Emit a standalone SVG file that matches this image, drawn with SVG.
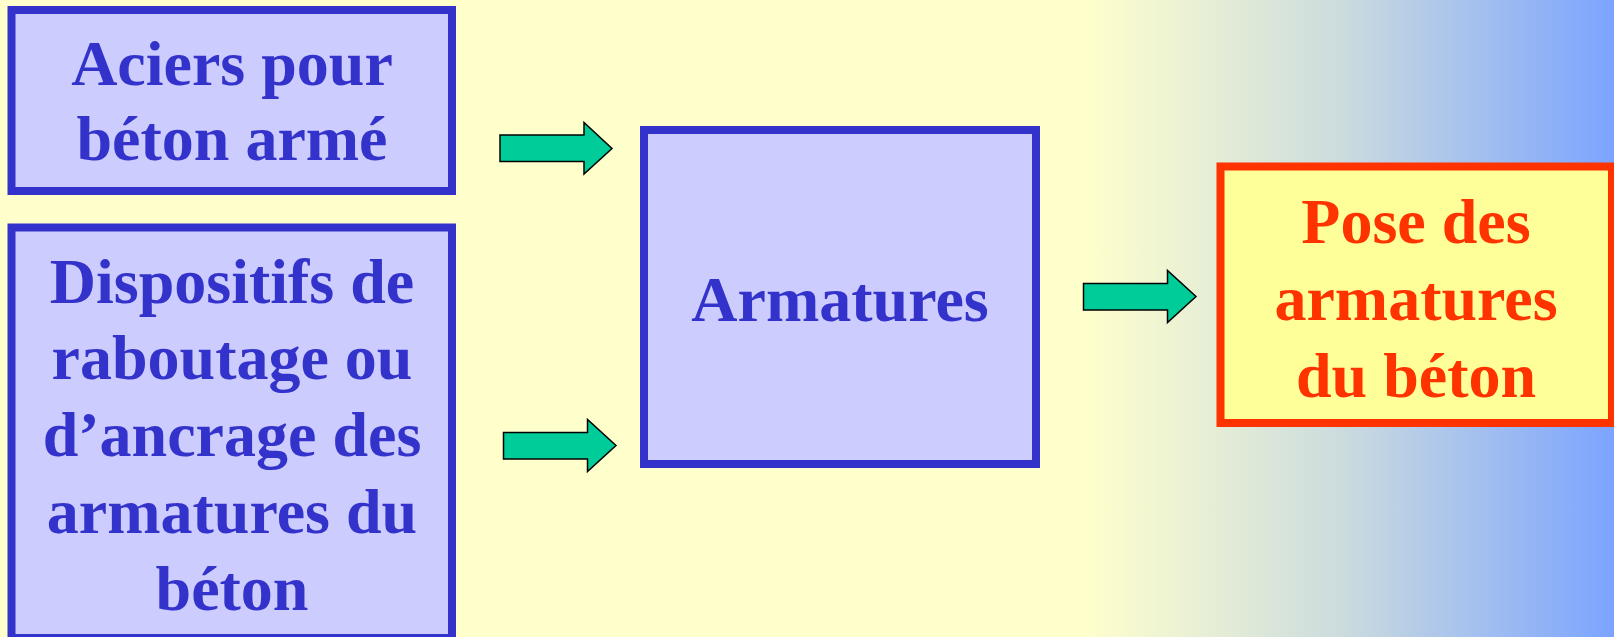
<svg xmlns="http://www.w3.org/2000/svg" width="1614" height="637" viewBox="0 0 1614 637">
<defs>
<linearGradient id="bg" x1="0" y1="0" x2="1614" y2="0" gradientUnits="userSpaceOnUse">
<stop offset="0" stop-color="#FFFFCC"/>
<stop offset="0.672" stop-color="#FFFFCC"/>
<stop offset="0.83" stop-color="#CCDCDE"/>
<stop offset="1" stop-color="#7BA4FF"/>
</linearGradient>
<style>
.bx{fill:#CCCCFF;stroke:#3333CC;stroke-width:8}
.rx{fill:#FFFF99;stroke:#FF3300;stroke-width:8}
.t{font-family:"Liberation Serif","Times New Roman",serif;font-weight:bold;text-anchor:middle;font-size:64px}
.tb{fill:#3333CC}
.tr{fill:#FF3300}
.ar{fill:#00CC99;stroke:#000;stroke-width:1.5;stroke-linejoin:miter}
</style>
</defs>
<rect x="0" y="0" width="1614" height="637" fill="url(#bg)"/>
<g id="aciers">
<rect class="bx" x="11.5" y="10" width="440.5" height="181"/>
<text class="t tb"><tspan x="232" y="85">Aciers pour</tspan><tspan x="232" y="160">béton armé</tspan></text>
</g>
<g id="dispositifs">
<rect class="bx" x="11.5" y="227.5" width="440.5" height="410.5"/>
<text class="t tb"><tspan x="232" y="303">Dispositifs de</tspan><tspan x="232" y="379">raboutage ou</tspan><tspan x="232" y="456">d’ancrage des</tspan><tspan x="232" y="533">armatures du</tspan><tspan x="232" y="610">béton</tspan></text>
</g>
<g id="armatures">
<rect class="bx" x="644" y="130" width="392" height="334"/>
<text class="t tb" x="840" y="321">Armatures</text>
</g>
<g id="pose">
<rect class="rx" x="1220.5" y="166.5" width="391.5" height="256.5"/>
<text class="t tr"><tspan x="1416" y="243">Pose des</tspan><tspan x="1416" y="320">armatures</tspan><tspan x="1416" y="397">du béton</tspan></text>
</g>
<g id="connectors">
<polygon class="ar" points="500,135 584,135 584,122.5 612,148.5 584,174 584,161.5 500,161.5"/>
<polygon class="ar" points="503.5,432.5 587.5,432.5 587.5,419.5 616,445.5 587.5,471.5 587.5,459 503.5,459"/>
<polygon class="ar" points="1083.5,283.5 1167.5,283.5 1167.5,270.5 1196,296.5 1167.5,322.5 1167.5,310 1083.5,310"/>
</g>
</svg>
